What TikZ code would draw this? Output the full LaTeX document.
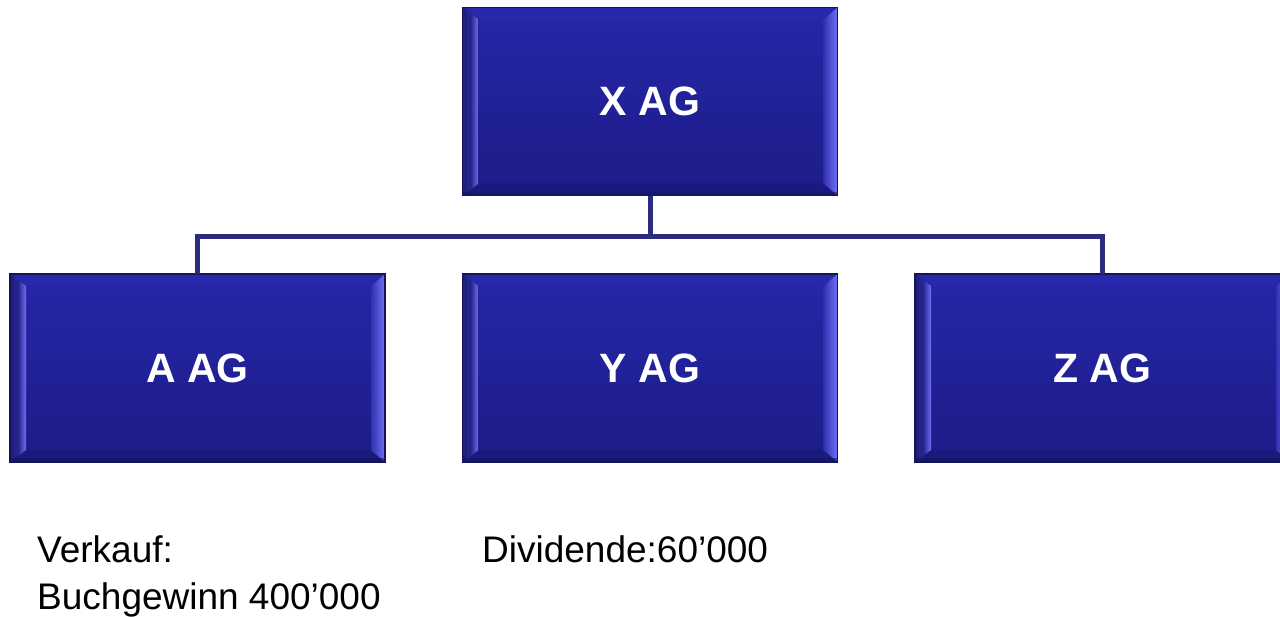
\documentclass[tikz,border=0pt]{standalone}
\usepackage{fontspec}
\setmainfont{Liberation Sans}
\usetikzlibrary{calc}
\definecolor{boxtop}{HTML}{2626A8}
\definecolor{boxbot}{HTML}{1C1C88}
\definecolor{boxborder}{HTML}{14145A}
\definecolor{bevtop}{HTML}{2828AC}
\definecolor{bevbot}{HTML}{1A1A7E}
\definecolor{bevdark}{HTML}{24248C}
\definecolor{bevlight}{HTML}{7070F4}
\definecolor{bevmid}{HTML}{3030B0}
\definecolor{linkcol}{HTML}{2B2B80}
\tikzset{
  agbox/.style={minimum width=375pt, minimum height=188pt, inner sep=0pt, outer sep=0pt,
    draw=boxborder, line width=1.2pt, text=white,
    font=\bfseries\fontsize{41}{49}\selectfont,
    top color=boxtop, bottom color=boxbot,
    path picture={
      \coordinate (nw) at (path picture bounding box.north west);
      \coordinate (ne) at (path picture bounding box.north east);
      \coordinate (sw) at (path picture bounding box.south west);
      \coordinate (se) at (path picture bounding box.south east);
      \fill[bevtop] (nw) -- (ne) -- ([shift={(-16pt,-12pt)}]ne) -- ([shift={(16pt,-12pt)}]nw) -- cycle;
      \fill[bevbot] (sw) -- (se) -- ([shift={(-16pt,12pt)}]se) -- ([shift={(16pt,12pt)}]sw) -- cycle;
      \fill[bevdark] (nw) -- ([shift={(16pt,-12pt)}]nw) -- ([shift={(16pt,12pt)}]sw) -- (sw) -- cycle;
      \shade[left color=bevdark, right color=bevlight] ([shift={(8pt,-6pt)}]nw) -- ([shift={(16pt,-12pt)}]nw) -- ([shift={(16pt,12pt)}]sw) -- ([shift={(8pt,6pt)}]sw) -- cycle;
      \shade[left color=bevmid, right color=bevlight] (ne) -- ([shift={(-14pt,-12pt)}]ne) -- ([shift={(-14pt,12pt)}]se) -- (se) -- cycle;
      \fill[boxborder, opacity=0.3] (nw) rectangle ([shift={(4pt,0pt)}]sw);
      \fill[boxborder, opacity=0.5] (sw) rectangle ([shift={(0pt,4pt)}]se);
    }},
  link/.style={draw=linkcol, line width=5pt},
  note/.style={anchor=base west, inner sep=0pt, font=\fontsize{37}{45}\selectfont, text=black}
}
\begin{document}
\begin{tikzpicture}[x=1pt, y=-1pt]
\useasboundingbox (0,0) rectangle (1280,616);
\clip (0,0) rectangle (1280,616);
\node[agbox] (X) at (650,101.5) {X AG};
\node[agbox] (A) at (197.5,368) {A AG};
\node[agbox] (Y) at (650,368) {Y AG};
\node[agbox] (Z) at (1102.5,368) {Z AG};
\coordinate (bus) at (650,236);
\draw[link] (X.south) -- (bus);
\draw[link] (A.north) |- (bus) -| (Z.north);
\node[note] (t1) at (37,562) {Verkauf:};
\node[note] (t2) at (37,609) {Buchgewinn 400’000};
\node[note] (t3) at (482,562) {Dividende:60’000};
\end{tikzpicture}
\end{document}
